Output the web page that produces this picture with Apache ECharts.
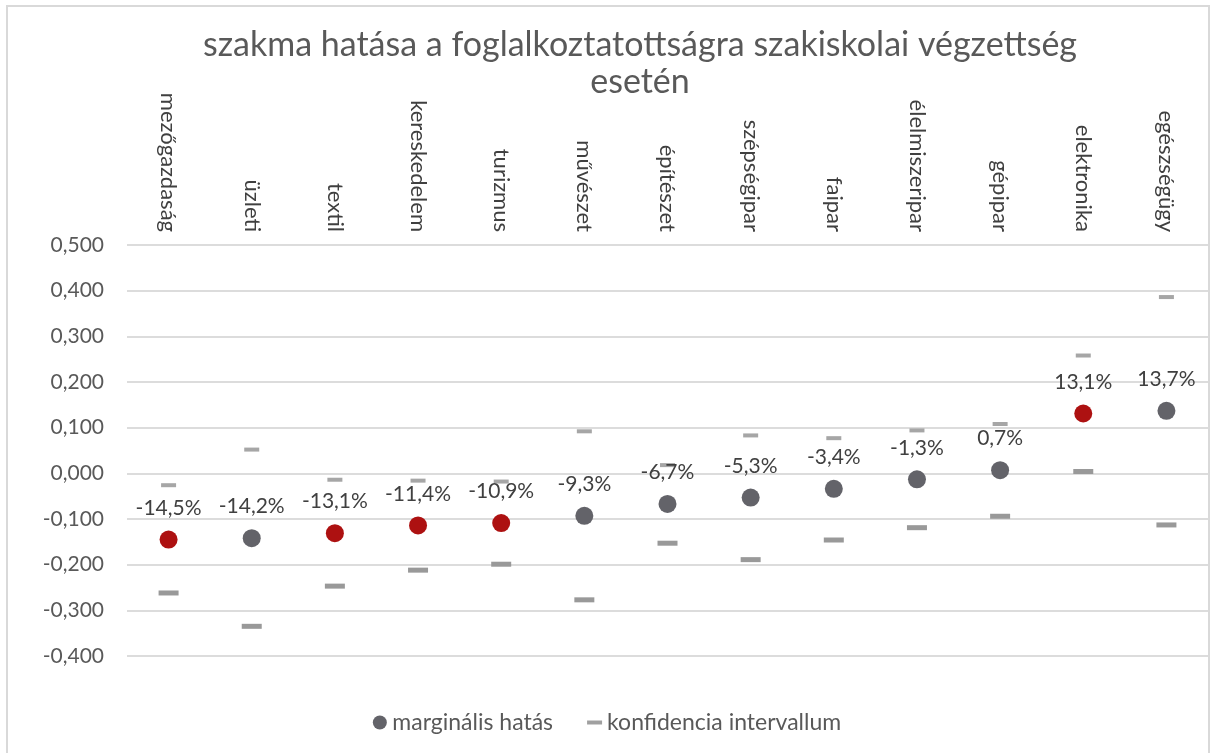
<!DOCTYPE html>
<html>
<head>
<meta charset="utf-8">
<script src="https://cdn.jsdelivr.net/npm/echarts@6/dist/echarts.min.js"></script>
<style>
html,body{margin:0;padding:0;background:#fff;}
#chart{width:1214px;height:753px;}
</style>
</head>
<body>
<div id="chart"></div>
<script>
const categories = ['mezőgazdaság','üzleti','textil','kereskedelem','turizmus','művészet','építészet','szépségipar','faipar','élelmiszeripar','gépipar','elektronika','egészségügy'];
const marginalEffect = [-0.145,-0.142,-0.131,-0.114,-0.109,-0.093,-0.067,-0.053,-0.034,-0.013,0.007,0.131,0.137];
const ciUpper = [-0.026,0.052,-0.014,-0.016,-0.018,0.092,0.018,0.083,0.077,0.094,0.108,0.258,0.386];
const ciLower = [-0.262,-0.335,-0.247,-0.212,-0.199,-0.277,-0.153,-0.189,-0.146,-0.119,-0.094,0.004,-0.113];
const significant = [true,false,true,true,true,false,false,false,false,false,false,true,false];
const yTicks = {min:-0.4, max:0.5, interval:0.1};
const titleText = 'szakma hatása a foglalkoztatottságra szakiskolai végzettség\nesetén';
const seriesNames = ['marginális hatás','konfidencia intervallum'];

const FONT = 'Lato, "Open Sans", sans-serif';
const RED = '#ad1111', GRAY = '#636369';

const chart = echarts.init(document.getElementById('chart'), null, {renderer:'canvas'});
const fmtNum = v => (Math.round(v*1000)/1000).toFixed(3).replace('.', ',');
const fmtPct = v => (Math.round(v*1000)/10).toFixed(1).replace('.', ',') + '%';

chart.setOption({
  backgroundColor:'#ffffff',
  animation:false,
  graphic:[{type:'rect', shape:{x:7,y:6,width:1202,height:800}, style:{fill:'none', stroke:'#d9d9d9', lineWidth:2}, silent:true}],
  title:{
    text:titleText, left:635, textAlign:'center', top:22,
    textStyle:{fontFamily:FONT, fontSize:34, fontWeight:'normal', color:'#595959', lineHeight:37}
  },
  legend:{
    left:'center', top:706, itemGap:34, itemWidth:15, itemHeight:14,
    textStyle:{fontFamily:FONT, fontSize:23, color:'#595959'},
    data:[
      {name:seriesNames[0], icon:'circle', itemStyle:{color:GRAY, opacity:1}},
      {name:seriesNames[1], icon:'path://M0,0h15v4h-15z', itemStyle:{color:'#a0a0a0', opacity:1}}
    ]
  },
  grid:{left:127, right:6, top:245, bottom:97},
  xAxis:{
    type:'category', position:'top', data:categories,
    axisLine:{show:false, onZero:false}, axisTick:{show:false},
    axisLabel:{rotate:90, margin:13, fontFamily:FONT, fontSize:22, color:'#404040', interval:0}
  },
  yAxis:{
    type:'value', min:yTicks.min, max:yTicks.max, interval:yTicks.interval,
    axisLine:{show:false}, axisTick:{show:false},
    splitLine:{lineStyle:{color:'#dcdcdc', width:2}},
    axisLabel:{formatter:fmtNum, margin:23, fontFamily:FONT, fontSize:21, color:'#595959'}
  },
  series:[
    {
      name:seriesNames[1], type:'scatter', symbol:'rect', symbolSize:[15,4], z:2,
      itemStyle:{color:'#a6a6a6', opacity:1},
      data:ciUpper
    },
    {
      name:seriesNames[1], type:'scatter', symbol:'rect', symbolSize:[20,5], z:2,
      itemStyle:{color:'#999999', opacity:1},
      data:ciLower
    },
    {
      name:seriesNames[0], type:'scatter', symbol:'circle', symbolSize:18, z:3,
      itemStyle:{color:GRAY, opacity:1},
      label:{show:true, position:'top', distance:12, formatter:p=>fmtPct(p.value), fontFamily:FONT, fontSize:21, color:'#404040'},
      data:marginalEffect.map((v,i)=>({value:v, itemStyle:{color: significant[i]?RED:GRAY, opacity:1}}))
    }
  ]
});
</script>
</body>
</html>
